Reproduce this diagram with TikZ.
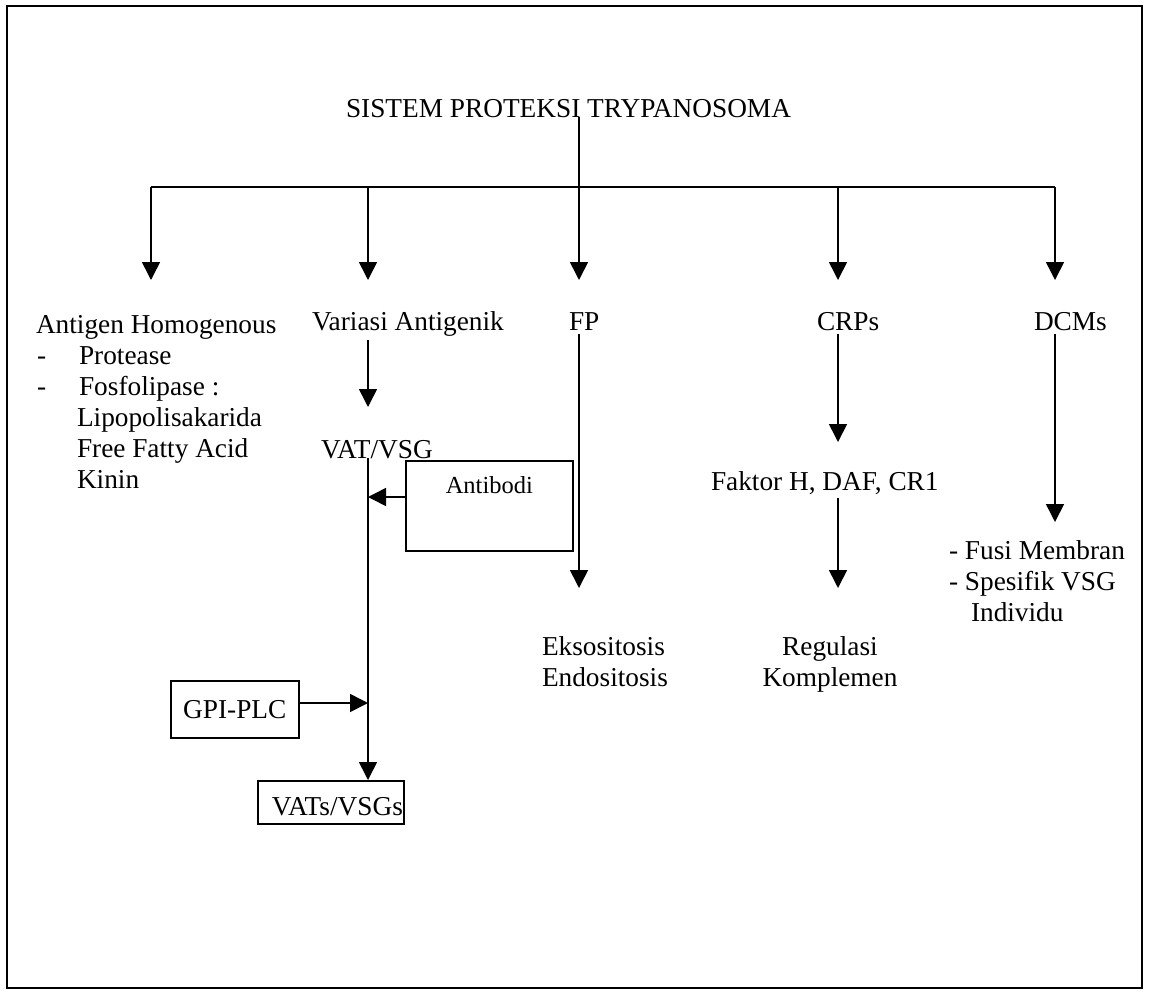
\documentclass[tikz,border=0pt]{standalone}
\usepackage{fontspec}
\setmainfont{Liberation Serif}
\usetikzlibrary{arrows.meta}
\newcommand{\normtext}{\fontsize{27.3}{31}\selectfont}
\newcommand{\boxtext}{\fontsize{24.5}{28}\selectfont}
\tikzset{every picture/.style={line width=1.6pt}}
\tikzset{
  lbl/.style={inner sep=0pt, outer sep=4pt, font=\normtext},
  pbox/.style={draw, inner sep=0pt, font=\normtext},
  arr/.style={-{Triangle[length=18pt,width=18pt]}}
}

\begin{document}
\begin{tikzpicture}[x=1pt,y=1pt,yscale=-1,xscale=1]
\useasboundingbox (0,0) rectangle (1150,993);
\draw [line width=2pt] (7,6) rectangle (1142,988);

% title and the branch bar
\node[lbl, anchor=base west] (title) at (342,117) {SISTEM PROTEKSI TRYPANOSOMA};
\coordinate (hub) at (579,187);
\coordinate (ja) at (151,187);
\coordinate (jb) at (368,187);
\coordinate (jd) at (838,187);
\coordinate (je) at (1055,187);
\coordinate (tiprow) at (0,280);
\draw (title.base -| hub) -- (hub);
\draw (ja) -- (je);
\foreach \j in {ja,jb,hub,jd,je}
  \draw[arr] (\j) -- (\j |- tiprow);

% first row
\node[lbl, anchor=north west, align=left] (antigen) at (32,311) {Antigen Homogenous\\
  \hspace*{1pt}-\hspace*{33pt}Protease\\
  \hspace*{1pt}-\hspace*{33pt}Fosfolipase :\\
  \hspace*{41pt}Lipopolisakarida\\
  \hspace*{41pt}Free Fatty Acid\\
  \hspace*{41pt}Kinin};
\node[lbl, anchor=base west] (variasi) at (308,330) {Variasi Antigenik};
\node[lbl, anchor=base west] (fp) at (565,330) {FP};
\node[lbl, anchor=base west] (crps) at (813,330) {CRPs};
\node[lbl, anchor=base west] (dcms) at (1030,330) {DCMs};

% antigenic variation branch
\coordinate (vtip) at (368,407);
\node[lbl, anchor=base west] (vatvsg) at (317,458) {VAT/VSG};
\node[pbox, font=\boxtext, anchor=north west, minimum width=167pt,
  text height=33pt, text depth=57pt] (antibodi) at (405,460) {Antibodi};
\node[pbox, anchor=north west, minimum width=128pt,
  text height=38pt, text depth=19pt] (gpi) at (170,680) {GPI-PLC};
\node[pbox, anchor=north west, inner xsep=1pt,
  text height=35pt, text depth=8pt] (vats) at (257,780) {\hspace*{13pt}VATs/VSGs};
\coordinate (abrow) at (0,497);
\coordinate (gpirow) at (0,703);
\draw[arr] (variasi.south -| jb) -- (vtip);
\draw[arr] (vatvsg.base -| jb) -- (vats.north -| jb);
\draw[arr] (antibodi.west |- abrow) -- (jb |- abrow);
\draw[arr] (gpi.east |- gpirow) -- (jb |- gpirow);

% FP, CRPs and DCMs branches
\coordinate (lowtip) at (0,588);
\coordinate (faktip) at (0,442);
\coordinate (dcmtip) at (0,522);
\node[lbl, anchor=north west, align=left] (eks) at (538,633) {Eksositosis\\Endositosis};
\node[lbl, anchor=base west] (faktor) at (707,490) {Faktor H, DAF, CR1};
\node[lbl, anchor=north, align=center] (regulasi) at (830,633) {Regulasi\\Komplemen};
\node[lbl, anchor=north west, align=left] (fusi) at (945,537) {- Fusi Membran\\
  - Spesifik VSG\\
  \hspace*{22pt}Individu};
\draw[arr] (fp.south -| hub) -- (hub |- lowtip);
\draw[arr] (crps.south -| jd) -- (jd |- faktip);
\draw[arr] (faktor.south -| jd) -- (jd |- lowtip);
\draw[arr] (dcms.south -| je) -- (je |- dcmtip);

\end{tikzpicture}
\end{document}
